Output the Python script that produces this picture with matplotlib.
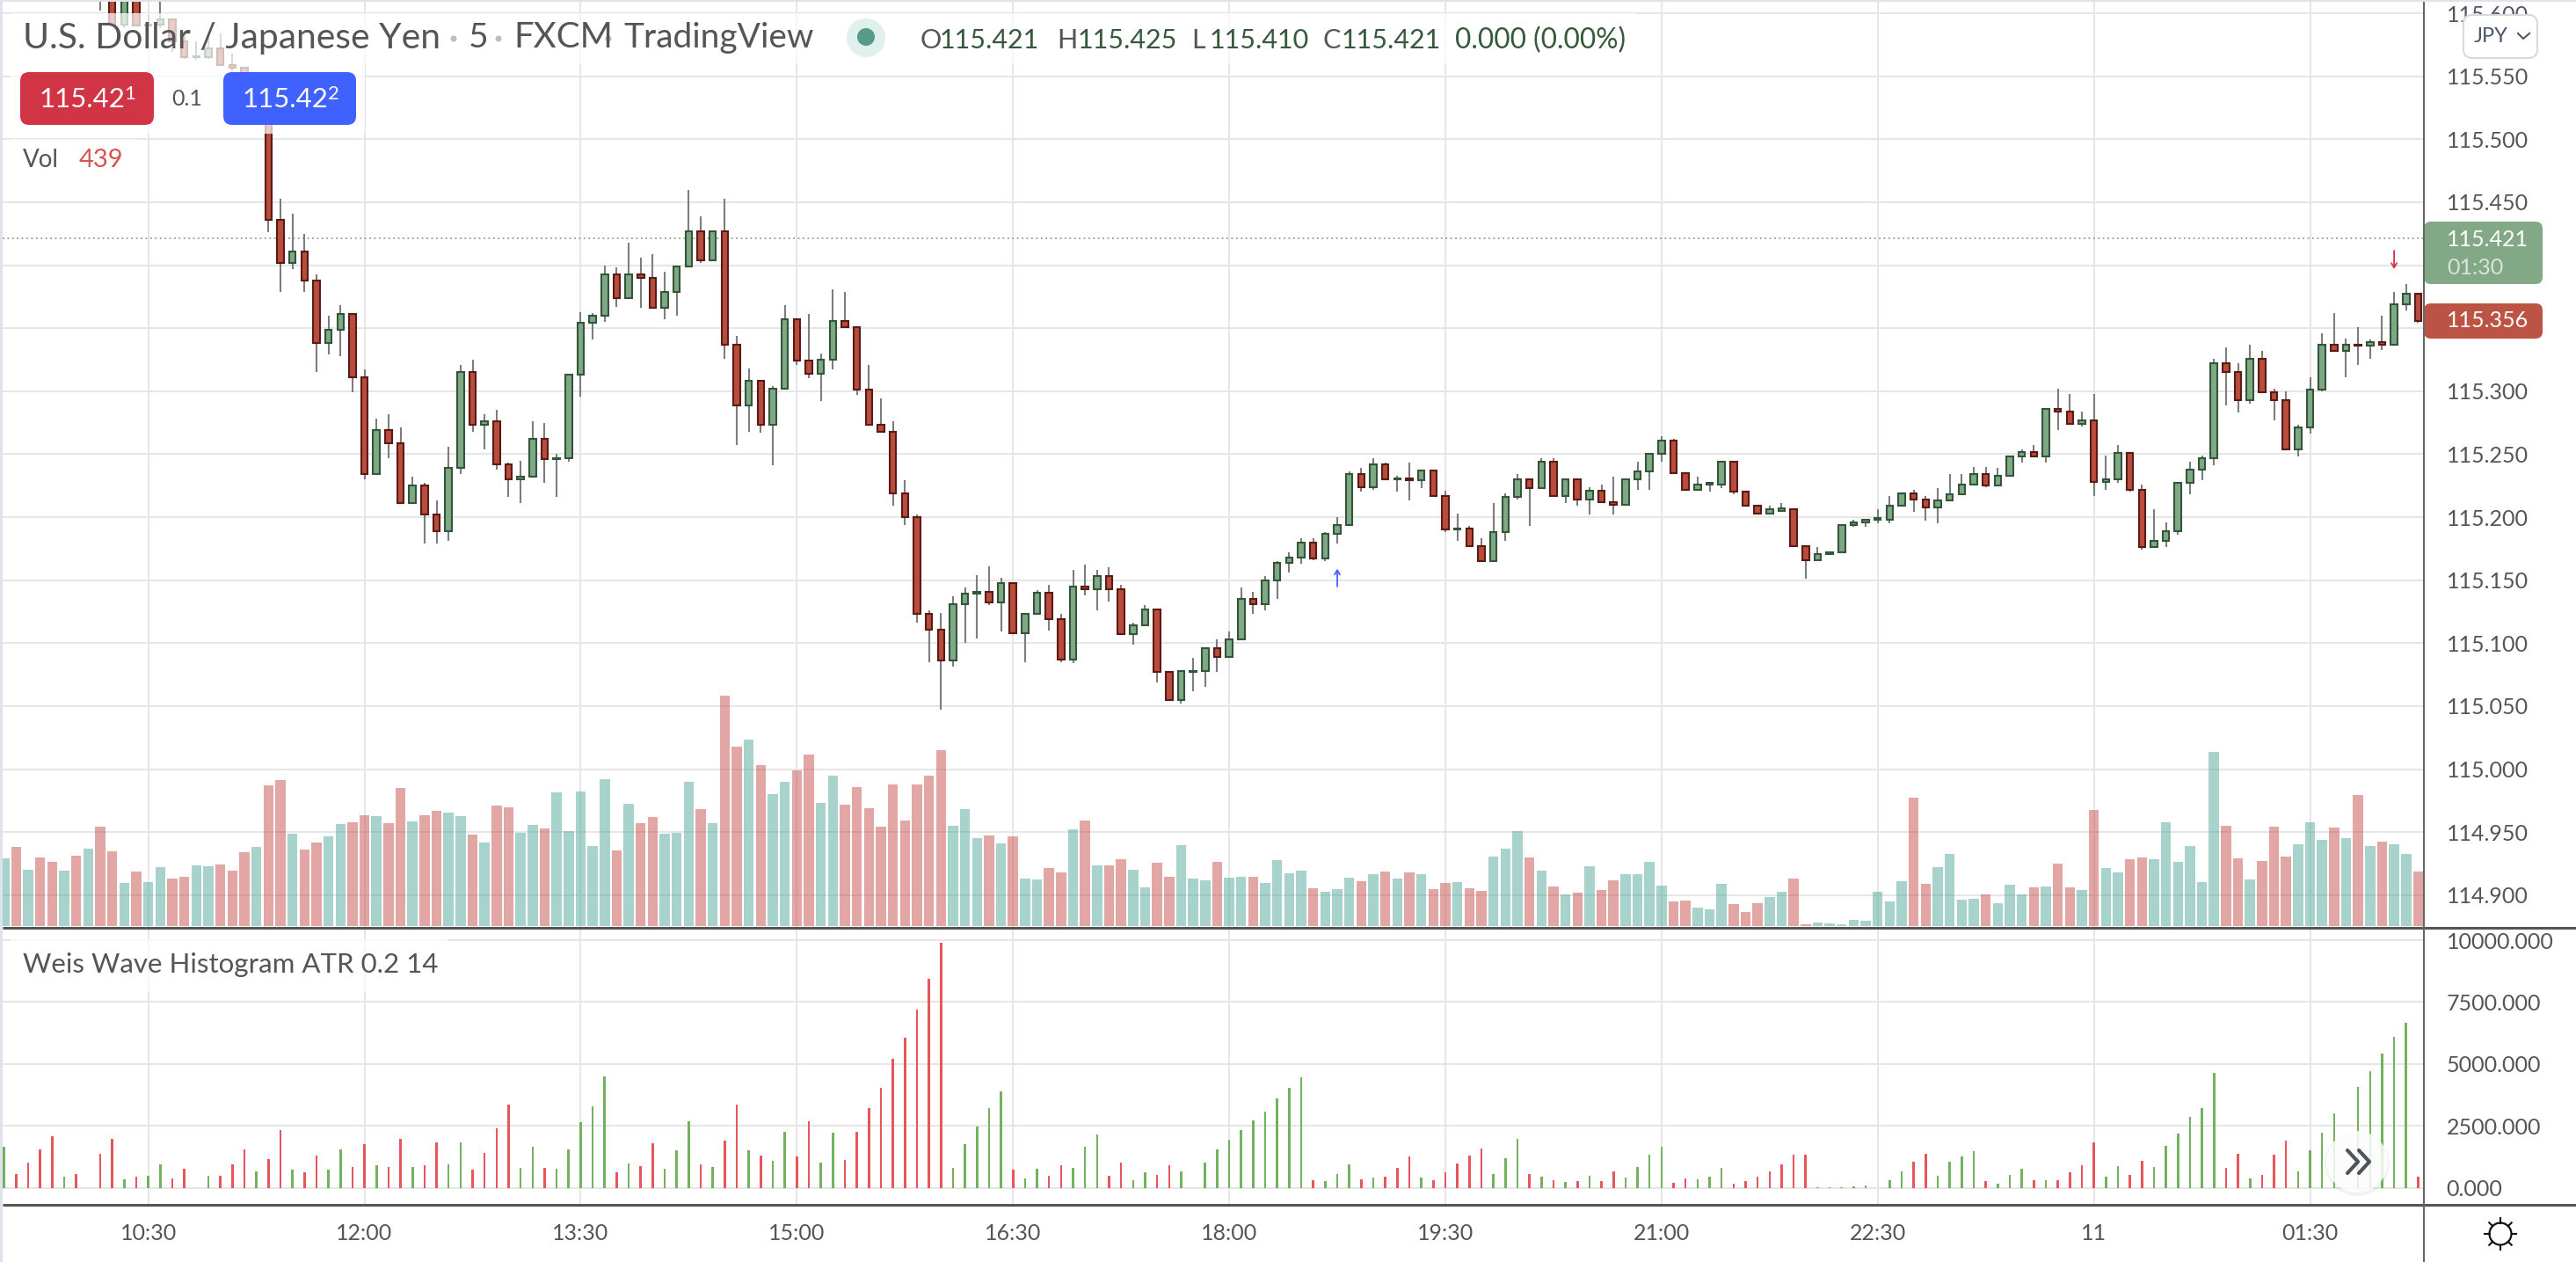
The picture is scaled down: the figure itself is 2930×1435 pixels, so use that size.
import matplotlib
matplotlib.use("Agg")
import matplotlib.pyplot as plt
from matplotlib.patches import FancyBboxPatch, Rectangle, Circle
import numpy as np

plt.rcParams['font.family'] = ['Lato', 'DejaVu Sans']

# USD/JPY 5 minute candles
opens = [115.640,115.648,115.642,115.650,115.644,115.628,115.634,115.625,115.629,115.613,
         115.591,115.614,115.590,115.591,115.595,115.578,115.565,115.565,115.572,115.559,
         115.557,115.529,115.538,115.436,115.402,115.411,115.388,115.338,115.349,115.361,
         115.311,115.234,115.269,115.259,115.211,115.225,115.202,115.189,115.239,115.315,
         115.273,115.276,115.242,115.230,115.232,115.262,115.246,115.247,115.313,115.354,
         115.360,115.393,115.374,115.393,115.390,115.366,115.379,115.399,115.427,115.404,
         115.427,115.337,115.289,115.308,115.273,115.302,115.357,115.324,115.314,115.325,
         115.356,115.351,115.301,115.273,115.268,115.219,115.200,115.123,115.111,115.086,
         115.131,115.139,115.141,115.132,115.148,115.108,115.123,115.140,115.119,115.087,
         115.145,115.143,115.153,115.143,115.107,115.114,115.127,115.077,115.055,115.077,
         115.078,115.096,115.089,115.103,115.135,115.131,115.150,115.164,115.168,115.180,
         115.167,115.187,115.194,115.234,115.224,115.242,115.230,115.231,115.229,115.237,
         115.217,115.190,115.191,115.177,115.165,115.188,115.216,115.230,115.223,115.244,
         115.217,115.230,115.214,115.221,115.212,115.210,115.230,115.236,115.250,115.261,
         115.235,115.222,115.226,115.226,115.244,115.220,115.209,115.203,115.205,115.206,
         115.177,115.166,115.171,115.172,115.194,115.196,115.198,115.198,115.209,115.219,
         115.214,115.208,115.213,115.218,115.226,115.234,115.225,115.233,115.248,115.252,
         115.248,115.286,115.284,115.274,115.277,115.228,115.230,115.251,115.222,115.176,
         115.181,115.189,115.227,115.238,115.247,115.322,115.315,115.293,115.326,115.299,
         115.293,115.254,115.271,115.301,115.337,115.332,115.337,115.336,115.339,115.337,
         115.369,115.377]
highs = [115.650,115.655,115.652,115.654,115.648,115.636,115.638,115.632,115.632,115.618,
         115.618,115.616,115.599,115.609,115.595,115.584,115.578,115.581,115.584,115.568,
         115.557,115.541,115.541,115.453,115.441,115.425,115.393,115.360,115.368,115.361,
         115.317,115.278,115.282,115.271,115.232,115.227,115.213,115.256,115.321,115.325,
         115.282,115.285,115.243,115.245,115.276,115.275,115.250,115.313,115.363,115.362,
         115.400,115.398,115.418,115.406,115.409,115.395,115.400,115.460,115.439,115.427,
         115.453,115.344,115.318,115.308,115.304,115.368,115.357,115.361,115.330,115.381,
         115.379,115.351,115.321,115.294,115.276,115.229,115.202,115.126,115.124,115.137,
         115.144,115.154,115.161,115.152,115.148,115.124,115.142,115.146,115.123,115.158,
         115.162,115.158,115.160,115.146,115.116,115.130,115.127,115.077,115.078,115.088,
         115.096,115.103,115.109,115.144,115.141,115.153,115.165,115.172,115.183,115.183,
         115.188,115.200,115.236,115.239,115.247,115.243,115.233,115.243,115.238,115.237,
         115.221,115.203,115.193,115.183,115.211,115.219,115.234,115.230,115.247,115.247,
         115.231,115.230,115.224,115.226,115.232,115.231,115.244,115.251,115.264,115.262,
         115.235,115.232,115.228,115.244,115.245,115.220,115.210,115.209,115.211,115.207,
         115.177,115.176,115.172,115.194,115.198,115.198,115.206,115.217,115.219,115.222,
         115.217,115.223,115.234,115.234,115.240,115.240,115.239,115.249,115.254,115.257,
         115.286,115.302,115.298,115.284,115.298,115.249,115.257,115.251,115.226,115.206,
         115.196,115.227,115.244,115.249,115.326,115.335,115.322,115.337,115.332,115.302,
         115.300,115.273,115.311,115.346,115.362,115.342,115.351,115.341,115.360,115.379,
         115.385,115.377]
lows = [115.635,115.640,115.640,115.641,115.628,115.625,115.622,115.622,115.602,115.591,
        115.588,115.590,115.589,115.588,115.569,115.564,115.563,115.564,115.559,115.554,
        115.528,115.527,115.426,115.379,115.397,115.379,115.315,115.329,115.328,115.299,
        115.230,115.234,115.247,115.211,115.211,115.179,115.179,115.181,115.234,115.268,
        115.254,115.238,115.216,115.211,115.232,115.227,115.216,115.244,115.296,115.341,
        115.355,115.367,115.374,115.366,115.366,115.357,115.360,115.398,115.402,115.404,
        115.326,115.257,115.268,115.267,115.241,115.302,115.321,115.310,115.292,115.317,
        115.351,115.297,115.273,115.267,115.209,115.194,115.116,115.085,115.047,115.081,
        115.100,115.104,115.130,115.109,115.108,115.085,115.123,115.110,115.085,115.084,
        115.138,115.126,115.133,115.107,115.099,115.114,115.069,115.055,115.052,115.062,
        115.065,115.077,115.088,115.103,115.123,115.126,115.135,115.156,115.163,115.166,
        115.165,115.179,115.194,115.220,115.222,115.229,115.220,115.213,115.223,115.217,
        115.188,115.181,115.177,115.165,115.165,115.181,115.214,115.193,115.223,115.216,
        115.211,115.209,115.202,115.211,115.202,115.210,115.222,115.222,115.244,115.235,
        115.221,115.222,115.220,115.223,115.218,115.209,115.202,115.203,115.205,115.177,
        115.151,115.166,115.171,115.172,115.192,115.192,115.195,115.195,115.209,115.204,
        115.197,115.195,115.213,115.218,115.226,115.224,115.225,115.233,115.243,115.248,
        115.243,115.269,115.273,115.272,115.217,115.222,115.227,115.220,115.174,115.176,
        115.176,115.186,115.218,115.229,115.241,115.289,115.283,115.290,115.299,115.277,
        115.254,115.248,115.266,115.300,115.332,115.311,115.321,115.326,115.333,115.337,
        115.364,115.354]
closes = [115.648,115.642,115.650,115.644,115.630,115.634,115.625,115.629,115.613,115.591,
          115.615,115.590,115.591,115.595,115.578,115.565,115.566,115.572,115.559,115.557,
          115.529,115.538,115.436,115.402,115.411,115.388,115.338,115.349,115.361,115.311,
          115.234,115.269,115.259,115.211,115.225,115.202,115.189,115.239,115.315,115.273,
          115.276,115.242,115.230,115.232,115.262,115.246,115.247,115.313,115.354,115.360,
          115.393,115.374,115.393,115.390,115.366,115.379,115.399,115.427,115.404,115.427,
          115.337,115.289,115.308,115.273,115.302,115.357,115.324,115.314,115.325,115.356,
          115.351,115.301,115.273,115.268,115.219,115.200,115.123,115.111,115.086,115.131,
          115.139,115.141,115.132,115.148,115.108,115.123,115.140,115.119,115.087,115.145,
          115.143,115.153,115.143,115.107,115.114,115.127,115.077,115.055,115.078,115.078,
          115.096,115.089,115.103,115.135,115.131,115.150,115.164,115.168,115.180,115.167,
          115.187,115.194,115.234,115.224,115.242,115.230,115.231,115.229,115.237,115.217,
          115.190,115.191,115.177,115.165,115.188,115.216,115.230,115.223,115.244,115.217,
          115.230,115.214,115.221,115.212,115.210,115.230,115.236,115.250,115.261,115.235,
          115.222,115.226,115.227,115.244,115.220,115.209,115.203,115.206,115.207,115.177,
          115.166,115.171,115.172,115.194,115.196,115.198,115.199,115.209,115.219,115.214,
          115.208,115.213,115.218,115.226,115.234,115.225,115.233,115.248,115.252,115.248,
          115.286,115.284,115.274,115.277,115.228,115.230,115.251,115.222,115.176,115.181,
          115.189,115.227,115.238,115.247,115.322,115.315,115.293,115.326,115.299,115.293,
          115.254,115.271,115.301,115.337,115.332,115.337,115.336,115.339,115.337,115.369,
          115.377,115.356]
volumes = [545,637,454,552,517,447,566,623,799,602,
           348,439,355,475,383,397,489,482,496,447,
           595,637,1130,1173,743,616,672,721,820,834,
           891,884,827,1109,841,891,926,912,884,736,
           672,968,954,750,813,785,1074,764,1081,644,
           1180,609,982,827,877,743,750,1159,940,827,
           1849,1441,1497,1293,1060,1159,1250,1377,989,1208,
           975,1116,947,799,1137,848,1137,1208,1412,806,
           940,707,729,665,721,383,376,468,432,778,
           848,489,489,538,454,313,510,397,651,383,
           369,517,390,397,397,348,531,425,447,306,
           277,298,390,362,418,439,383,432,418,298,
           348,355,306,284,559,623,764,552,447,320,
           256,270,482,291,369,418,418,517,327,200,
           207,150,136,341,179,115,186,235,277,383,
           16,31,24,16,52,45,277,200,362,1032,
           341,475,580,214,221,256,186,334,256,313,
           320,503,313,291,933,468,432,538,552,538,
           834,517,644,355,1398,806,545,376,524,799,
           559,658,834,693,792,707,1053,644,679,658,
           580,439]

# Weis Wave pane
weis_vals = [1657,556,1006,1550,2071,438,556,0,1373,1976,
             343,438,473,935,379,769,0,473,485,947,
             1550,651,1160,2343,734,615,1302,734,1550,840,
             1751,899,840,1976,840,899,1834,935,1822,734,
             1408,2402,3361,817,1645,793,769,1550,2651,3290,
             4497,615,994,888,1787,757,1515,2686,947,840,
             1893,3361,1527,1302,1077,2260,1266,2686,1006,2225,
             1124,2260,3219,4035,5207,6059,7207,8438,9882,805,
             1763,2473,3219,3893,734,379,757,473,899,793,
             1669,2142,485,1030,308,615,509,899,651,0,
             1018,1550,1929,2331,2722,3065,3598,4024,4462,296,
             272,556,947,343,414,438,817,1254,414,296,
             627,982,1290,1574,556,1195,1964,556,438,308,
             237,260,485,272,651,414,828,1337,1657,189,
             379,343,450,805,166,272,450,663,947,1337,
             1337,24,24,24,71,95,0,296,663,1053,
             1373,485,1053,1266,1479,260,178,521,769,308,
             320,308,615,899,1834,438,864,532,1089,840,
             1692,2189,2852,3207,4627,817,1373,379,521,1337,
             1893,663,1515,2213,3006,0,4071,4721,5408,6083,
             6662,438]
weis_dir = ("GRRRRGRGRR" "GRGGRRGGRR" "RGRRGRRGGR" "RGRRGRRGGR" "RRRGGRGGGG"
            "GRGRRGGGRG" "RRGRGGRRGG" "RRRRRRRRRG" "GGGGRGGRRG" "GGRRGGRRGG"
            "GGGGGGGGGR" "GGGRGRRRGR" "RRRRGGGRGR" "GRGRRGGGGR" "RGGGRRRRRR"
            "RGGGGGGGGR" "RGGGGRGGGR" "GRRRRGGRRG" "GGGGGRRGRR" "RGGGGGGGGG"
            "GR")

price_ticks = [114.90,114.95,115.00,115.05,115.10,115.15,115.20,115.25,
               115.30,115.35,115.40,115.45,115.50,115.55,115.60]
hidden_ticks = [115.35, 115.40]  # covered by the last price tags
weis_ticks = [0,2500,5000,7500,10000]
time_bars = [12,30,48,66,84,102,120,138,156,174,192]
time_labels = ["10:30","12:00","13:30","15:00","16:30","18:00","19:30","21:00","22:30","11","01:30"]

last_price = 115.421
up_arrow = (111, 115.145, 115.159)
down_arrow = (199, 115.4115, 115.397)

W, H = 2930, 1435
GREY = "#555555"
GRID = "#e6e6e6"

def pane(left, top, right, bottom):
    return [left / W, 1 - bottom / H, (right - left) / W, (bottom - top) / H]

fig = plt.figure(figsize=(W / 100, H / 100), dpi=100, facecolor="white")

x = np.arange(len(closes))
o = np.array(opens)
c = np.array(closes)
up = c >= o

# price pane
ax1 = fig.add_axes(pane(3, 2, 2757, 1055))
ax1.set_xlim(-0.13, 201.48)
ax1.set_ylim(114.874, 115.6091)
ax1.set_facecolor("white")

ax1.vlines(x, lows, highs, color="#7d7d7d", lw=1.5, zorder=3)
body_low = np.minimum(o, c)
body_h = np.abs(c - o)
ax1.bar(x[up], body_h[up], bottom=body_low[up], width=0.55,
        facecolor="#7fa884", edgecolor="#33563a", linewidth=1.5, zorder=4)
ax1.bar(x[~up], body_h[~up], bottom=body_low[~up], width=0.55,
        facecolor="#b84c3d", edgecolor="#5b1a14", linewidth=1.5, zorder=4)

ax1.axhline(last_price, color="#82a886", lw=1.3, ls=(0, (1, 2)), zorder=2)

ax1.annotate("", xy=(up_arrow[0], up_arrow[2]), xytext=(up_arrow[0], up_arrow[1]),
             arrowprops=dict(arrowstyle="->,head_length=0.35,head_width=0.22", color="#3f62ff",
                             lw=1.3, shrinkA=0, shrinkB=0), zorder=5)
ax1.annotate("", xy=(down_arrow[0], down_arrow[2]), xytext=(down_arrow[0], down_arrow[1]),
             arrowprops=dict(arrowstyle="->,head_length=0.35,head_width=0.22", color="#d9304a",
                             lw=1.3, shrinkA=0, shrinkB=0), zorder=5)

# volume shares the price pane, on its own scale
ax_vol = ax1.twinx()
ax_vol.set_ylim(-14, 7412)
ax_vol.bar(x, volumes, width=0.84, color=["#53a99b" if u else "#c74f4d" for u in up],
           alpha=0.5, linewidth=0)
ax_vol.set_yticks([])
ax_vol.patch.set_visible(False)

ax1.yaxis.tick_right()
ax1.set_yticks(price_ticks)
ax1.set_yticklabels(["" if t in hidden_ticks else "%.3f" % t for t in price_ticks])
ax1.set_xticks(time_bars)
ax1.set_xticklabels([])

# weis wave pane
ax2 = fig.add_axes(pane(3, 1057, 2757, 1370))
ax2.set_xlim(-0.13, 201.48)
ax2.set_ylim(-685, 10426)
ax2.bar(x, weis_vals, width=0.19, zorder=3,
        color=["#72b25e" if d == "G" else "#e5575c" for d in weis_dir], linewidth=0)
ax2.yaxis.tick_right()
ax2.set_yticks(weis_ticks)
ax2.set_yticklabels(["%.3f" % t for t in weis_ticks])
ax2.set_xticks(time_bars)
ax2.set_xticklabels(time_labels)

for ax in [ax1, ax2]:
    ax.grid(True, color=GRID, lw=1.45, zorder=0)
    ax.set_axisbelow(True)
    for s in ax.spines.values():
        s.set_visible(False)
    ax.tick_params(axis="y", length=0, pad=18.5, labelsize=18, labelcolor=GREY)
    ax.tick_params(axis="x", length=0, pad=15, labelsize=18, labelcolor=GREY)
for s in ax_vol.spines.values():
    s.set_visible(False)

# everything the platform draws on top, laid out in screen pixels
ui = fig.add_axes([0, 0, 1, 1], zorder=10)
ui.set_xlim(0, W)
ui.set_ylim(H, 0)
ui.axis("off")

def box(x0, y0, x1, y1, color, r=8, **kw):
    ui.add_patch(FancyBboxPatch((x0, y0), x1 - x0, y1 - y0, boxstyle="round,pad=0,rounding_size=%d" % r,
                                facecolor=color, **{"linewidth": 0, **kw}))

def label(px, py, s, size, color=GREY, **kw):
    ui.text(px, py, s, fontsize=size, color=color, va="center", ha=kw.pop("ha", "left"), **kw)

# see-through backing under the legends
for x0, y0, x1, y1 in [(12, 15, 1860, 72), (12, 72, 415, 152), (12, 158, 156, 215), (12, 1068, 510, 1127)]:
    ui.add_patch(Rectangle((x0, y0), x1 - x0, y1 - y0, facecolor="white", alpha=0.72, linewidth=0))

# borders
ui.add_patch(Rectangle((0, 0), W, 2, facecolor="#e0e3eb", linewidth=0))
ui.add_patch(Rectangle((0, 0), 3, H, facecolor="#e0e3eb", linewidth=0))
ui.plot([3, W], [1055, 1055], color="#555555", lw=2.2, solid_capstyle="butt")
ui.plot([3, W], [1370, 1370], color="#555555", lw=2.2, solid_capstyle="butt")
ui.plot([2757, 2757], [2, H], color="#666666", lw=1.5, solid_capstyle="butt")

# title row
label(26, 43, "U.S. Dollar / Japanese Yen", 29.4)
label(533, 43, "5", 28)
label(584, 43, "FXCM", 29)
label(709, 43, "TradingView", 28)
for dx in [516, 567, 692]:
    ui.add_patch(Circle((dx, 44), 3.5, facecolor="#b8bec9", linewidth=0))
ui.add_patch(Circle((985, 43), 22, facecolor="#e0f0ec", linewidth=0))
ui.add_patch(Circle((985, 42), 10, facecolor="#569b85", linewidth=0))

DARK = "#36593b"
for lx, letter, vx, val in [(1047, "O", 1069, "115.421"), (1202, "H", 1226, "115.425"),
                            (1355, "L", 1376, "115.410"), (1504, "C", 1526, "115.421")]:
    label(lx, 46, letter, 22)
    label(vx, 46, val, 22, DARK)
label(1655, 46, "0.000 (0.00%)", 22.8, DARK)

# sell / buy buttons
box(23, 82, 175, 142, "#d13445", r=10)
box(254, 82, 405, 142, "#3f62ff", r=10)
label(44, 113, "115.42", 22.4, "white")
label(141, 107, "1", 16, "white")
label(275, 113, "115.42", 22.4, "white")
label(373, 107, "2", 16, "white")
label(195, 112, "0.1", 18)
label(26, 182, "Vol", 20)
label(90, 182, "439", 21, "#d9534f")
label(26, 1097, "Weis Wave Histogram ATR 0.2 14", 22.5)

# last price tags on the axis
box(2757, 252, 2892, 323, "#82a886")
box(2757, 345, 2892, 385, "#bb5444")
label(2783, 272, "115.421", 18, "white")
label(2783, 304, "01:30", 18, "#d9e5da")
label(2783, 365, "115.356", 18, "white")

# currency button
box(2802, 17, 2886, 66, "white", r=10, linewidth=1.5, edgecolor="#d6d9e0")
label(2814, 41, "JPY", 17, "#4a5568")
ui.plot([2864, 2870, 2877], [38, 44, 38], color="#555555", lw=1.5)

# scroll button and settings icon
ui.add_patch(Circle((2681, 1323), 37, facecolor="#888888", alpha=0.10, linewidth=0))
ui.add_patch(Circle((2681, 1321), 35, facecolor="white", alpha=0.82, linewidth=0))
for off in [0, 13]:
    ui.plot([2670 + off, 2682 + off, 2670 + off], [1308, 1321, 1334], color="#50535e", lw=3, solid_capstyle="round")

ui.add_patch(Circle((2844, 1403), 12.5, facecolor="white", edgecolor="#111111", linewidth=1.6))
for ang in np.arange(0, 360, 45):
    a = np.radians(ang)
    ui.plot([2844 + 12.5 * np.cos(a), 2844 + 18 * np.cos(a)], [1403 + 12.5 * np.sin(a), 1403 + 18 * np.sin(a)],
            color="#111111", lw=1.5)

ui.set_xlim(0, W)
ui.set_ylim(H, 0)

fig.savefig("out.png", dpi=100)
